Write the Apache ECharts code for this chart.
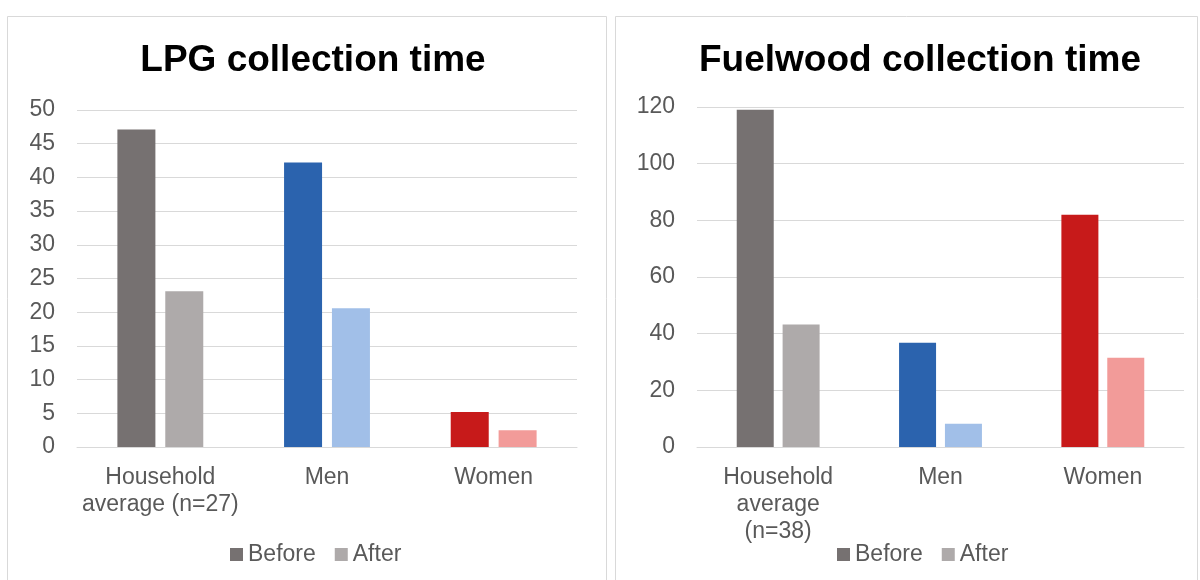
<!DOCTYPE html>
<html>
<head>
<meta charset="utf-8">
<title>Collection time before and after</title>
<script src="https://cdn.jsdelivr.net/npm/echarts@6/dist/echarts.min.js"></script>
<style>
  html, body { margin: 0; padding: 0; background: #fff; }
  #chart { width: 1200px; height: 580px; }
</style>
</head>
<body>
<div id="chart"></div>
<script>
// Categories and values (minutes) for each panel
const lpgCategories = ['Household\naverage (n=27)', 'Men', 'Women'];
const lpgBefore = [47.1, 42.2, 5.2];
const lpgAfter = [23.1, 20.6, 2.5];

const woodCategories = ['Household\naverage\n(n=38)', 'Men', 'Women'];
const woodBefore = [119, 36.8, 82];
const woodAfter = [43.2, 8.2, 31.5];

const seriesNames = ['Before', 'After'];

// Per-category colours: darker shade for Before, lighter for After
const beforeColors = ['#767171', '#2B63AE', '#C71A1A'];
const afterColors = ['#AEAAAA', '#A1BFE8', '#F29B99'];

const FONT = '"Liberation Sans", Arial, sans-serif';
const TEXT = '#595959';
const GRID = '#D9D9D9';

function coloured(values, colors) {
  return values.map((v, i) => ({ value: v, itemStyle: { color: colors[i] } }));
}

function xAxisFor(gridIndex, cats) {
  return {
    type: 'category', gridIndex, data: cats,
    axisLine: { lineStyle: { color: GRID, width: 1 } },
    axisTick: { show: false },
    axisLabel: { color: TEXT, fontFamily: FONT, fontSize: 23, lineHeight: 27, margin: 17, interval: 0 }
  };
}

function yAxisFor(gridIndex, max, interval) {
  return {
    type: 'value', gridIndex, min: 0, max, interval,
    axisLine: { show: false }, axisTick: { show: false },
    splitLine: { lineStyle: { color: GRID, width: 1.2 } },
    axisLabel: { color: TEXT, fontFamily: FONT, fontSize: 23, margin: 22 }
  };
}

const chart = echarts.init(document.getElementById('chart'), null, { renderer: 'canvas' });

chart.setOption({
  animation: false,
  backgroundColor: '#fff',
  graphic: [
    { type: 'rect', shape: { x: 7.5, y: 16.5, width: 599, height: 600 },
      style: { fill: 'none', stroke: '#D9D9D9', lineWidth: 1 }, z: -1 },
    { type: 'rect', shape: { x: 615.5, y: 16.5, width: 582, height: 600 },
      style: { fill: 'none', stroke: '#D9D9D9', lineWidth: 1 }, z: -1 }
  ],
  title: [
    { text: 'LPG collection time', left: 308, top: 37, textAlign: 'center',
      textStyle: { fontFamily: FONT, fontSize: 37, fontWeight: 'bold', color: '#000' } },
    { text: 'Fuelwood collection time', left: 915, top: 37, textAlign: 'center',
      textStyle: { fontFamily: FONT, fontSize: 37, fontWeight: 'bold', color: '#000' } }
  ],
  legend: [
    { data: seriesNames, left: 225, top: 538, itemWidth: 13, itemHeight: 13, itemGap: 19,
      icon: 'rect', textStyle: { fontFamily: FONT, fontSize: 23, color: TEXT } },
    { data: seriesNames, left: 832, top: 538, itemWidth: 13, itemHeight: 13, itemGap: 19,
      icon: 'rect', textStyle: { fontFamily: FONT, fontSize: 23, color: TEXT } }
  ],
  grid: [
    { left: 77, top: 110, width: 500, height: 337 },
    { left: 697, top: 107, width: 487, height: 340 }
  ],
  xAxis: [xAxisFor(0, lpgCategories), xAxisFor(1, woodCategories)],
  yAxis: [yAxisFor(0, 50, 5), yAxisFor(1, 120, 20)],
  series: [
    { name: 'Before', type: 'bar', xAxisIndex: 0, yAxisIndex: 0, barWidth: 38, barGap: '26%',
      itemStyle: { color: '#767171' }, data: coloured(lpgBefore, beforeColors) },
    { name: 'After', type: 'bar', xAxisIndex: 0, yAxisIndex: 0, barWidth: 38, barGap: '26%',
      itemStyle: { color: '#AEAAAA' }, data: coloured(lpgAfter, afterColors) },
    { name: 'Before', type: 'bar', xAxisIndex: 1, yAxisIndex: 1, barWidth: 37, barGap: '24%',
      itemStyle: { color: '#767171' }, data: coloured(woodBefore, beforeColors) },
    { name: 'After', type: 'bar', xAxisIndex: 1, yAxisIndex: 1, barWidth: 37, barGap: '24%',
      itemStyle: { color: '#AEAAAA' }, data: coloured(woodAfter, afterColors) }
  ]
});
</script>
</body>
</html>
